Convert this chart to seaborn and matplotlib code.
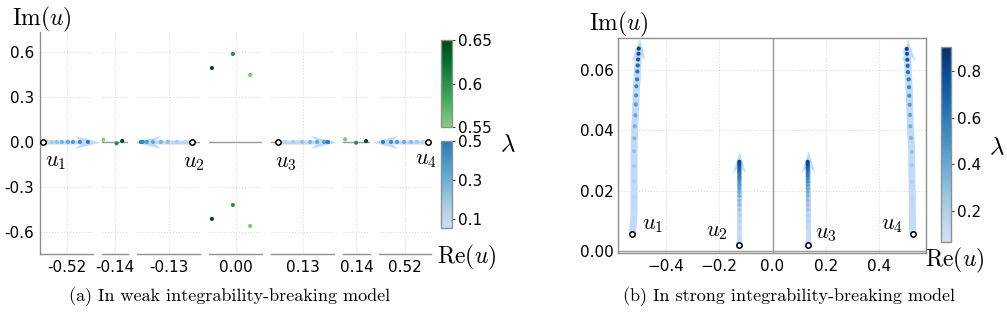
import numpy as np
import pandas as pd
import matplotlib
matplotlib.use("Agg")
import matplotlib.pyplot as plt
import seaborn as sns
from matplotlib.colors import ListedColormap, Normalize
from matplotlib.cm import ScalarMappable

sns.set_theme(style="white")
plt.rcParams["font.family"] = ["DejaVu Sans"]
plt.rcParams["mathtext.fontset"] = "cm"
plt.rcParams["text.color"] = "black"

# ------------------------------------------------------------------ data (a)
seg_centers = [-0.52, -0.14, -0.13, 0.00, 0.13, 0.14, 0.52]
seg_labels = ["-0.52", "-0.14", "-0.13", "0.00", "0.13", "0.14", "0.52"]
a_yticks = [-0.6, -0.3, 0.0, 0.3, 0.6]
a_ytick_labels = ["-0.6", "-0.3", "0.0", "0.3", "0.6"]

# real roots (weak model), start point, dots, arrow tip
u1a_start = -0.5318
u1a_re = [-0.5298, -0.5273, -0.5248, -0.5223, -0.5193, -0.5168, -0.5133, -0.5093]
u1a_lam = [0.12, 0.17, 0.22, 0.27, 0.32, 0.37, 0.42, 0.48]
u1a_tip = -0.5033

u2a_start = -0.1183
u2a_re = [-0.1218, -0.1258, -0.1303, -0.1338, -0.1378, -0.1408, -0.1428, -0.1438]
u2a_lam = [0.12, 0.17, 0.22, 0.27, 0.32, 0.37, 0.42, 0.48]
u2a_tip = -0.1468

u3a_start = 0.1178
u3a_re = [0.1213, 0.1253, 0.1298, 0.1338, 0.1373, 0.1408, 0.1423, 0.1428]
u3a_lam = [0.12, 0.17, 0.22, 0.27, 0.32, 0.37, 0.42, 0.48]
u3a_tip = 0.1468

u4a_start = 0.5315
u4a_re = [0.5290, 0.5260, 0.5230, 0.5195, 0.5160, 0.5130, 0.5090]
u4a_lam = [0.12, 0.18, 0.24, 0.30, 0.36, 0.42, 0.48]
u4a_tip = 0.5035

# green points (lambda 0.55 - 0.65)
gA_re = [-0.1459, -0.1392, -0.1364]
gA_im = [0.015, -0.009, 0.007]
gA_lam = [0.555, 0.60, 0.645]

gC_re = [-0.0118, -0.0013, 0.0073, -0.0118, -0.0013, 0.0073]
gC_im = [0.493, 0.587, 0.447, -0.513, -0.420, -0.560]
gC_lam = [0.645, 0.60, 0.555, 0.645, 0.60, 0.555]

gB_re = [0.1343, 0.1398, 0.1448]
gB_im = [0.018, -0.005, 0.006]
gB_lam = [0.555, 0.60, 0.645]

# ------------------------------------------------------------------ data (b)
u1b_start = (-0.5261, 0.0057)
u1b_re = [-0.5197, -0.5197, -0.5197, -0.5197, -0.5197, -0.5186, -0.5171, -0.5148, -0.5133,
          -0.5122, -0.5111, -0.5084, -0.5073, -0.5058, -0.5047, -0.5030, -0.5021]
u1b_im = [0.0126, 0.0179, 0.0232, 0.0282, 0.0331, 0.0374, 0.0414, 0.0450, 0.0486,
          0.0516, 0.0546, 0.0569, 0.0595, 0.0615, 0.0635, 0.0654, 0.0671]
u1b_tip = (-0.4998, 0.0704)

u4b_start = (0.5261, 0.0057)
u4b_re = [0.5246, 0.5246, 0.5235, 0.5223, 0.5223, 0.5197, 0.5171, 0.5159, 0.5148,
          0.5133, 0.5122, 0.5111, 0.5084, 0.5073, 0.5058, 0.5047, 0.5036]
u4b_im = [0.0125, 0.0177, 0.0230, 0.0285, 0.0329, 0.0375, 0.0414, 0.0451, 0.0485,
          0.0515, 0.0543, 0.0569, 0.0593, 0.0614, 0.0634, 0.0654, 0.0670]
u4b_tip = (0.5058, 0.0703)
u14b_lam = list(np.round(np.linspace(0.1, 0.8, 17), 3))

u2b_start = (-0.1246, 0.0021)
u2b_im = [0.0059, 0.0080, 0.0100, 0.0119, 0.0136, 0.0153, 0.0168, 0.0183, 0.0196, 0.0208, 0.0219,
          0.0229, 0.0238, 0.0246, 0.0254, 0.0262, 0.0269, 0.0276, 0.0283, 0.0289, 0.0296]
u2b_re = [-0.1246] * len(u2b_im)
u2b_tip = (-0.1246, 0.0331)

u3b_start = (0.1321, 0.0019)
u3b_im = [0.0059, 0.0080, 0.0100, 0.0119, 0.0136, 0.0153, 0.0168, 0.0183, 0.0196, 0.0208, 0.0219,
          0.0229, 0.0238, 0.0246, 0.0254, 0.0262, 0.0269, 0.0276, 0.0283, 0.0289, 0.0296]
u3b_re = [0.1321] * len(u3b_im)
u3b_tip = (0.1321, 0.0331)
u23b_lam = list(np.round(np.linspace(0.1, 0.8, 21), 3))

b_xticks = [-0.4, -0.2, 0.0, 0.2, 0.4]
b_yticks = [0.0, 0.02, 0.04, 0.06]

# ------------------------------------------------------------------ styling
W, H = 1007, 315
fig = plt.figure(figsize=(W / 100, H / 100), dpi=100)
fig.patch.set_facecolor("white")


def rect(x0, y0, x1, y1):
    return [x0 / W, 1 - y1 / H, (x1 - x0) / W, (y1 - y0) / H]


GRID = dict(color="#dcdcdc", linestyle=":", linewidth=0.8)
SPINE = "#8f8f8f"
ZEROLINE = "#9a9a9a"
TRAIL = "#c3d9fb"
TICKFS = 11

cmap_g = ListedColormap(plt.get_cmap("Greens")(np.linspace(0.45, 1.0, 256)))
cmap_ba = ListedColormap(plt.get_cmap("Blues")(np.linspace(0.22, 0.72, 256)))
cmap_bb = ListedColormap(plt.get_cmap("Blues")(np.linspace(0.2, 1.0, 256)))
norm_g = (0.55, 0.65)
norm_ba = (0.054, 0.5)
norm_bb = (0.065, 0.905)


def dots(ax, re, im, lam, cmap, norm, s=9):
    sns.scatterplot(x=re, y=im, hue=lam, palette=cmap, hue_norm=norm, s=s,
                    linewidth=0, legend=False, ax=ax, zorder=3)


def start_circle(ax, x, y):
    sns.scatterplot(x=[x], y=[y], s=15, color="white", edgecolor="black",
                    linewidth=1.1, legend=False, ax=ax, zorder=5, clip_on=False)


def arrow(ax, x0, y0, x1, y1, width, hw, hl, hal):
    ax.quiver([x0], [y0], [x1 - x0], [y1 - y0], angles="xy", scale_units="xy", scale=1,
              units="dots", width=width, headwidth=hw, headlength=hl, headaxislength=hal,
              color=TRAIL, zorder=2, clip_on=False, linewidth=0)


def ulabel(ax, text, xy, off):
    ax.annotate(text, xy=xy, xytext=off, textcoords="offset pixels",
                ha="center", va="center", fontsize=16, annotation_clip=False)


# ------------------------------------------------------------------ panel (a)
seg_px = [(40, 93), (102, 128), (137, 200), (209, 262), (271, 334), (343, 370), (379, 431)]
axes_a = []
for i, (x0, x1) in enumerate(seg_px):
    ax = fig.add_axes(rect(x0, 32, x1, 254))
    hw = (x1 - x0) / 2 / 2000
    c = seg_centers[i]
    ax.set_xlim(c - hw, c + hw)
    ax.set_ylim(-0.747, 0.733)
    ax.set_xticks([c])
    ax.set_xticklabels([seg_labels[i]])
    ax.set_yticks(a_yticks)
    ax.set_yticklabels(a_ytick_labels if i == 0 else [])
    ax.spines["top"].set_visible(False)
    ax.spines["right"].set_visible(False)
    if i > 0:
        ax.spines["left"].set_visible(False)
    for s in ("left", "bottom"):
        ax.spines[s].set_color(SPINE)
        ax.spines[s].set_linewidth(1.0)
    ax.grid(True, **GRID)
    ax.set_axisbelow(True)
    ax.tick_params(length=0, labelsize=TICKFS, pad=4, labelcolor="black")
    ax.axhline(0, color=ZEROLINE, lw=1.0, zorder=1)
    ax.set_facecolor("none")
    axes_a.append(ax)

A_ARROW = dict(width=4, hw=3.3, hl=6.5, hal=5.0)
zeros = lambda n: [0.0] * n

ax = axes_a[0]
arrow(ax, u1a_start, 0, u1a_tip, 0, **A_ARROW)
dots(ax, u1a_re, zeros(len(u1a_re)), u1a_lam, cmap_ba, norm_ba)
start_circle(ax, u1a_start, 0)
ulabel(ax, r"$u_1$", (u1a_start, 0), (13, -20))

ax = axes_a[1]
dots(ax, gA_re, gA_im, gA_lam, cmap_g, norm_g)

ax = axes_a[2]
arrow(ax, u2a_start, 0, u2a_tip, 0, **A_ARROW)
dots(ax, u2a_re, zeros(len(u2a_re)), u2a_lam, cmap_ba, norm_ba)
start_circle(ax, u2a_start, 0)
ulabel(ax, r"$u_2$", (u2a_start, 0), (2, -21))

ax = axes_a[3]
dots(ax, gC_re, gC_im, gC_lam, cmap_g, norm_g)

ax = axes_a[4]
arrow(ax, u3a_start, 0, u3a_tip, 0, **A_ARROW)
dots(ax, u3a_re, zeros(len(u3a_re)), u3a_lam, cmap_ba, norm_ba)
start_circle(ax, u3a_start, 0)
ulabel(ax, r"$u_3$", (u3a_start, 0), (8, -21))

ax = axes_a[5]
dots(ax, gB_re, gB_im, gB_lam, cmap_g, norm_g)

ax = axes_a[6]
arrow(ax, u4a_start, 0, u4a_tip, 0, **A_ARROW)
dots(ax, u4a_re, zeros(len(u4a_re)), u4a_lam, cmap_ba, norm_ba)
start_circle(ax, u4a_start, 0)
ulabel(ax, r"$u_4$", (u4a_start, 0), (-2, -18))

for ax in axes_a:
    ax.set_xlabel("")
    ax.set_ylabel("")


# colorbars
def colorbar(x0, y0, x1, y1, cmap, norm, ticks, labels):
    cax = fig.add_axes(rect(x0, y0, x1, y1))
    cb = fig.colorbar(ScalarMappable(norm=Normalize(*norm), cmap=cmap), cax=cax)
    cb.set_ticks(ticks)
    cb.set_ticklabels(labels)
    cb.outline.set_edgecolor(SPINE)
    cb.outline.set_linewidth(1.0)
    cax.tick_params(length=2.5, width=0.8, color="#444444", labelsize=TICKFS, pad=1.5,
                    labelcolor="black")
    return cb


colorbar(441, 40, 452, 127, cmap_g, norm_g, [0.55, 0.6, 0.65], ["0.55", "0.6", "0.65"])
colorbar(441, 141, 452, 228, cmap_ba, norm_ba, [0.1, 0.3, 0.5], ["0.1", "0.3", "0.5"])

fig.text(42 / W, 1 - 19 / H, r"$\mathrm{Im}(u)$", fontsize=17, ha="center", va="center")
fig.text(467 / W, 1 - 257 / H, r"$\mathrm{Re}(u)$", fontsize=17, ha="center", va="center")
fig.text(508 / W, 1 - 144 / H, r"$\lambda$", fontsize=18, ha="center", va="center")

# ------------------------------------------------------------------ panel (b)
axb = fig.add_axes(rect(618, 38, 926, 253))
axb.set_xlim(-0.58, 0.576)
axb.set_ylim(-0.0006, 0.0706)
axb.set_xticks(b_xticks)
axb.set_yticks(b_yticks)
axb.set_yticklabels(["0.00", "0.02", "0.04", "0.06"])
for s in axb.spines.values():
    s.set_color(SPINE)
    s.set_linewidth(1.0)
axb.grid(True, **GRID)
axb.set_axisbelow(True)
axb.tick_params(length=0, labelsize=TICKFS, pad=4, labelcolor="black")
axb.tick_params(axis="y", pad=3)
axb.axhline(0, color=ZEROLINE, lw=1.0, zorder=1)
axb.axvline(0, color=ZEROLINE, lw=1.0, zorder=1)

B_ARROW = dict(width=5, hw=2.7, hl=4.4, hal=3.4)
for start, re, im, tip in [(u1b_start, u1b_re, u1b_im, u1b_tip),
                           (u4b_start, u4b_re, u4b_im, u4b_tip)]:
    trail = pd.DataFrame({"re": [start[0]] + re, "im": [start[1]] + im})
    sns.lineplot(data=trail, x="re", y="im", sort=False, estimator=None,
                 color=TRAIL, lw=5, ax=axb, zorder=2, solid_capstyle="butt")
    arrow(axb, re[8], im[8], tip[0], tip[1], **B_ARROW)
    dots(axb, re, im, u14b_lam, cmap_bb, norm_bb)
    start_circle(axb, *start)

for start, re, im, tip in [(u2b_start, u2b_re, u2b_im, u2b_tip),
                           (u3b_start, u3b_re, u3b_im, u3b_tip)]:
    arrow(axb, start[0], start[1], tip[0], tip[1], **B_ARROW)
    dots(axb, re, im, u23b_lam, cmap_bb, norm_bb)
    start_circle(axb, *start)

ulabel(axb, r"$u_1$", u1b_start, (20, 9))
ulabel(axb, r"$u_2$", u2b_start, (-22, 13))
ulabel(axb, r"$u_3$", u3b_start, (18, 11))
ulabel(axb, r"$u_4$", u4b_start, (-21, 9))
axb.set_xlabel("")
axb.set_ylabel("")

colorbar(941, 47, 951, 242, cmap_bb, norm_bb, [0.2, 0.4, 0.6, 0.8], ["0.2", "0.4", "0.6", "0.8"])

fig.text(619 / W, 1 - 24 / H, r"$\mathrm{Im}(u)$", fontsize=17, ha="center", va="center")
fig.text(955 / W, 1 - 260 / H, r"$\mathrm{Re}(u)$", fontsize=17, ha="center", va="center")
fig.text(997 / W, 1 - 147 / H, r"$\lambda$", fontsize=18, ha="center", va="center")

# ------------------------------------------------------------------ captions
fig.text(230 / W, 1 - 297 / H, "(a) In weak integrability-breaking model",
         family="cmr10", fontsize=13, ha="center", va="center")
fig.text(789 / W, 1 - 297 / H, "(b) In strong integrability-breaking model",
         family="cmr10", fontsize=13, ha="center", va="center")

fig.savefig("out.png", dpi=100, facecolor="white")
